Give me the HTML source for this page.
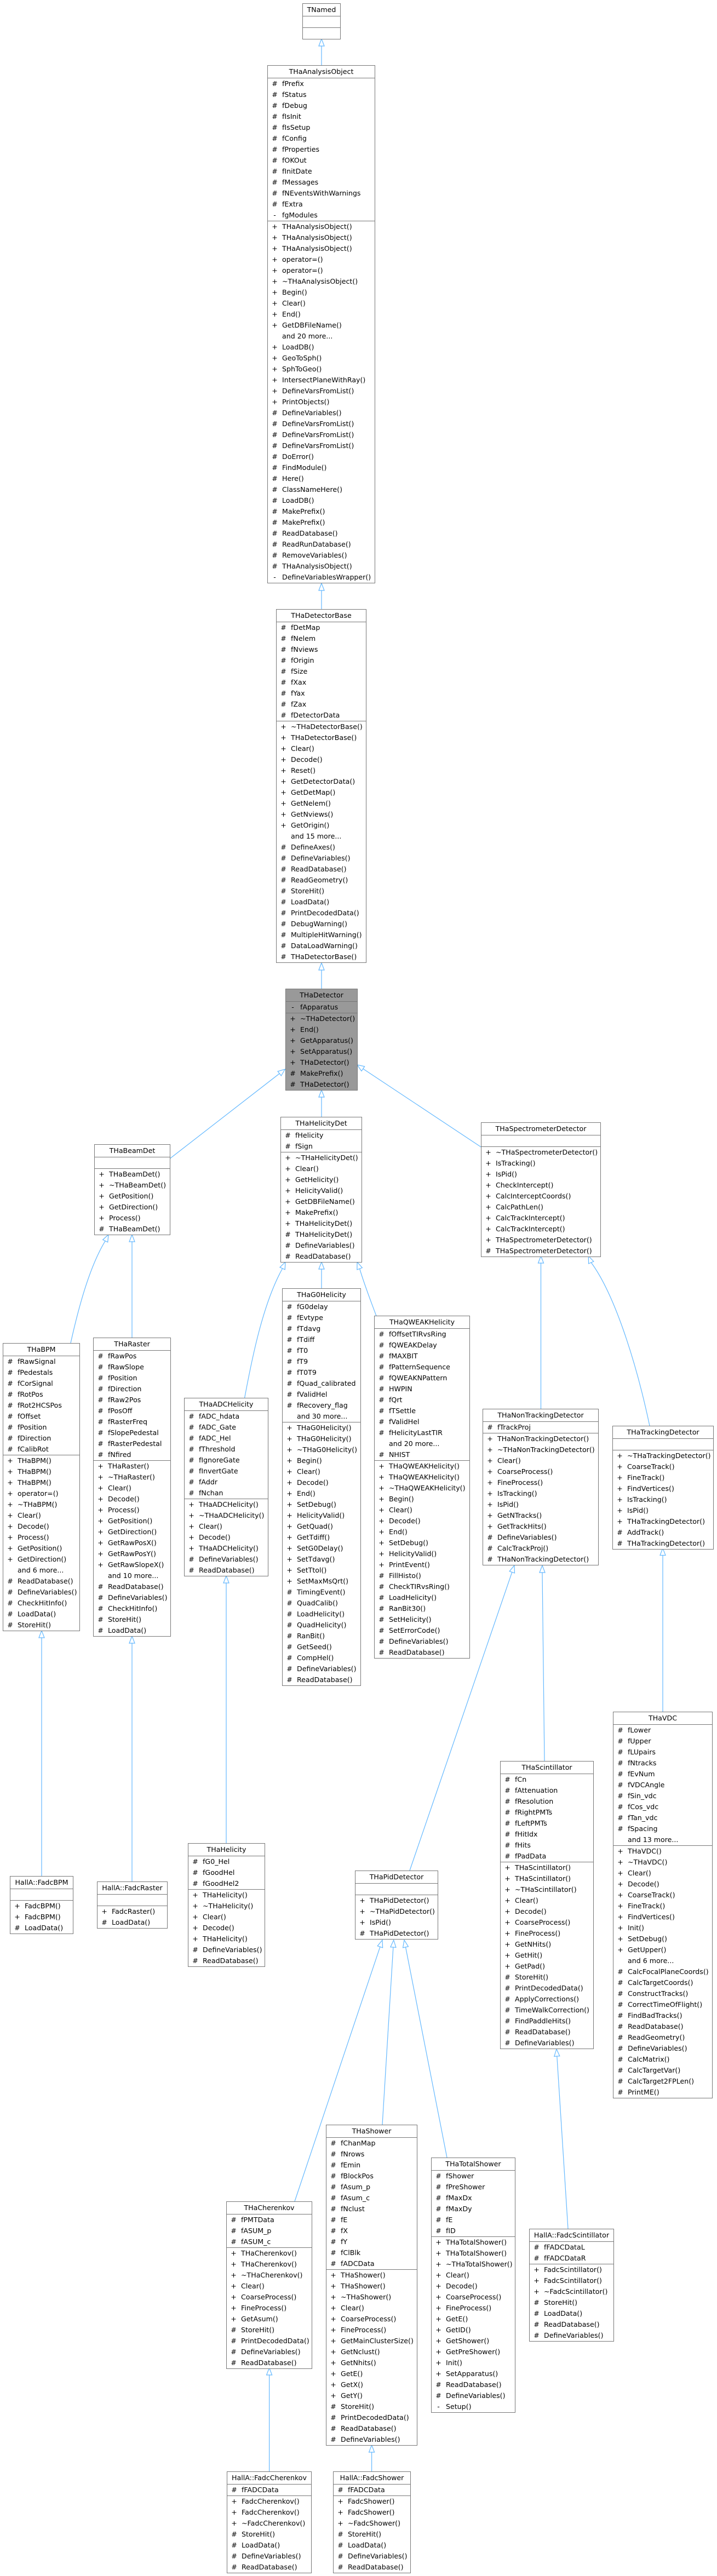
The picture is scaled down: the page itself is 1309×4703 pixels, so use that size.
<!DOCTYPE html>
<html><head><meta charset="utf-8"><style>
html,body{margin:0;padding:0;background:#fff}
body{width:1309px;height:4703px;position:relative;overflow:hidden;font-family:"DejaVu Sans","Liberation Sans",sans-serif;font-size:12.6px;color:#000}
svg{position:absolute;left:0;top:0}
.b{position:absolute;border:1px solid #777;background:#fff;box-sizing:border-box}
.g{background:#999}
.t{height:22px;line-height:22px;text-align:center;border-bottom:1px solid #777;white-space:nowrap}
.s{border-bottom:1px solid #777}
.s:last-child{border-bottom:none}
.e{height:20px}
p{margin:0;height:20px;line-height:20px;white-space:nowrap;padding-left:5px}
i{font-style:normal;display:inline-block;width:15px;text-align:center;margin-right:6px}
</style></head><body>
<svg width="1309" height="4703" fill="none" stroke="#63b8ff" stroke-width="1.2">
<g>
<line x1="587" y1="119" x2="587" y2="84"/>
<line x1="587" y1="1112" x2="587" y2="1078"/>
<line x1="587" y1="1805" x2="587" y2="1771"/>
<line x1="310.5" y1="2115" x2="510.2" y2="1960"/>
<line x1="587" y1="2039" x2="587" y2="2003"/>
<line x1="878" y1="2094" x2="662.8" y2="1951.2"/>
<path d="M129,2452 C145,2380 165,2310 192.2,2265.6"/>
<line x1="241" y1="2442" x2="241" y2="2267"/>
<path d="M446.6,2552 C460,2480 480,2380 515.6,2316"/>
<line x1="587" y1="2352" x2="587" y2="2317"/>
<path d="M687,2402.5 C675,2370 665,2345 656.6,2316.2"/>
<line x1="987.5" y1="2572" x2="987.5" y2="2306"/>
<path d="M1186,2603 C1160,2480 1120,2360 1079.2,2305"/>
<line x1="1210" y1="3125" x2="1210" y2="2839.5"/>
<line x1="76" y1="3425" x2="76" y2="2990"/>
<line x1="241" y1="3435" x2="241" y2="3000"/>
<line x1="413" y1="3365" x2="413" y2="2890"/>
<line x1="748" y1="3415" x2="934.8" y2="2870.3"/>
<line x1="994" y1="3215" x2="990" y2="2871"/>
<line x1="538" y1="4019" x2="693.9" y2="3554.3"/>
<line x1="698" y1="3879" x2="717.9" y2="3555"/>
<line x1="816" y1="3939" x2="740.5" y2="3554.8"/>
<line x1="1037" y1="4069" x2="1016.8" y2="3754"/>
<line x1="491.6" y1="4512" x2="491.6" y2="4336"/>
<line x1="678.6" y1="4512" x2="678.6" y2="4477"/>
</g>
<g fill="#fff">
<polygon points="587,71 582,84 592,84"/>
<polygon points="587,1065 582,1078 592,1078"/>
<polygon points="587,1758 582,1771 592,1771"/>
<polygon points="520.5,1952 513.3,1964 507.1,1956"/>
<polygon points="587,1990 582,2003 592,2003"/>
<polygon points="652,1944 665.6,1947 660,1955.4"/>
<polygon points="198,2254 196.7,2267.8 187.7,2263.4"/>
<polygon points="241,2254 236,2267 246,2267"/>
<polygon points="521,2304 520.2,2317.9 511,2313.7"/>
<polygon points="587,2304 582,2317 592,2317"/>
<polygon points="652,2304 661.3,2314.5 651.9,2318"/>
<polygon points="987.5,2293 982.5,2306 992.5,2306"/>
<polygon points="1074.3,2293 1083.8,2303 1074.6,2307"/>
<polygon points="1210,2826.5 1205,2839.5 1215,2839.5"/>
<polygon points="76,2977 71,2990 81,2990"/>
<polygon points="241,2987 236,3000 246,3000"/>
<polygon points="413,2877 408,2890 418,2890"/>
<polygon points="939,2858 939.5,2871.9 930.1,2868.7"/>
<polygon points="990,2858 985,2871 995,2871"/>
<polygon points="698,3542 698.6,3555.9 689.2,3552.7"/>
<polygon points="718.7,3542 722.9,3555.3 712.9,3554.7"/>
<polygon points="738,3542 745.4,3553.8 735.6,3555.8"/>
<polygon points="1016,3741 1021.8,3753.7 1011.8,3754.3"/>
<polygon points="491.6,4323 486.6,4336 496.6,4336"/>
<polygon points="678.6,4464 673.6,4477 683.6,4477"/>
</g>
</svg>

<div class="b" style="left:552px;top:6px;width:70px"><div class="t">TNamed</div><div class="s e"></div><div class="s e"></div></div>

<div class="b" style="left:488px;top:119px;width:197px"><div class="t">THaAnalysisObject</div>
<div class="s"><p><i>#</i>fPrefix</p><p><i>#</i>fStatus</p><p><i>#</i>fDebug</p><p><i>#</i>fIsInit</p><p><i>#</i>fIsSetup</p><p><i>#</i>fConfig</p><p><i>#</i>fProperties</p><p><i>#</i>fOKOut</p><p><i>#</i>fInitDate</p><p><i>#</i>fMessages</p><p><i>#</i>fNEventsWithWarnings</p><p><i>#</i>fExtra</p><p><i>-</i>fgModules</p></div>
<div class="s"><p><i>+</i>THaAnalysisObject()</p><p><i>+</i>THaAnalysisObject()</p><p><i>+</i>THaAnalysisObject()</p><p><i>+</i>operator=()</p><p><i>+</i>operator=()</p><p><i>+</i>~THaAnalysisObject()</p><p><i>+</i>Begin()</p><p><i>+</i>Clear()</p><p><i>+</i>End()</p><p><i>+</i>GetDBFileName()</p><p><i></i>and 20 more...</p><p><i>+</i>LoadDB()</p><p><i>+</i>GeoToSph()</p><p><i>+</i>SphToGeo()</p><p><i>+</i>IntersectPlaneWithRay()</p><p><i>+</i>DefineVarsFromList()</p><p><i>+</i>PrintObjects()</p><p><i>#</i>DefineVariables()</p><p><i>#</i>DefineVarsFromList()</p><p><i>#</i>DefineVarsFromList()</p><p><i>#</i>DefineVarsFromList()</p><p><i>#</i>DoError()</p><p><i>#</i>FindModule()</p><p><i>#</i>Here()</p><p><i>#</i>ClassNameHere()</p><p><i>#</i>LoadDB()</p><p><i>#</i>MakePrefix()</p><p><i>#</i>MakePrefix()</p><p><i>#</i>ReadDatabase()</p><p><i>#</i>ReadRunDatabase()</p><p><i>#</i>RemoveVariables()</p><p><i>#</i>THaAnalysisObject()</p><p><i>-</i>DefineVariablesWrapper()</p></div></div>

<div class="b" style="left:504px;top:1112px;width:165px"><div class="t">THaDetectorBase</div>
<div class="s"><p><i>#</i>fDetMap</p><p><i>#</i>fNelem</p><p><i>#</i>fNviews</p><p><i>#</i>fOrigin</p><p><i>#</i>fSize</p><p><i>#</i>fXax</p><p><i>#</i>fYax</p><p><i>#</i>fZax</p><p><i>#</i>fDetectorData</p></div>
<div class="s"><p><i>+</i>~THaDetectorBase()</p><p><i>+</i>THaDetectorBase()</p><p><i>+</i>Clear()</p><p><i>+</i>Decode()</p><p><i>+</i>Reset()</p><p><i>+</i>GetDetectorData()</p><p><i>+</i>GetDetMap()</p><p><i>+</i>GetNelem()</p><p><i>+</i>GetNviews()</p><p><i>+</i>GetOrigin()</p><p><i></i>and 15 more...</p><p><i>#</i>DefineAxes()</p><p><i>#</i>DefineVariables()</p><p><i>#</i>ReadDatabase()</p><p><i>#</i>ReadGeometry()</p><p><i>#</i>StoreHit()</p><p><i>#</i>LoadData()</p><p><i>#</i>PrintDecodedData()</p><p><i>#</i>DebugWarning()</p><p><i>#</i>MultipleHitWarning()</p><p><i>#</i>DataLoadWarning()</p><p><i>#</i>THaDetectorBase()</p></div></div>

<div class="b g" style="left:521px;top:1805px;width:132px"><div class="t">THaDetector</div>
<div class="s"><p><i>-</i>fApparatus</p></div>
<div class="s"><p><i>+</i>~THaDetector()</p><p><i>+</i>End()</p><p><i>+</i>GetApparatus()</p><p><i>+</i>SetApparatus()</p><p><i>+</i>THaDetector()</p><p><i>#</i>MakePrefix()</p><p><i>#</i>THaDetector()</p></div></div>

<div class="b" style="left:172px;top:2089px;width:139px"><div class="t">THaBeamDet</div><div class="s e"></div>
<div class="s"><p><i>+</i>THaBeamDet()</p><p><i>+</i>~THaBeamDet()</p><p><i>+</i>GetPosition()</p><p><i>+</i>GetDirection()</p><p><i>+</i>Process()</p><p><i>#</i>THaBeamDet()</p></div></div>

<div class="b" style="left:512px;top:2039px;width:149px"><div class="t">THaHelicityDet</div>
<div class="s"><p><i>#</i>fHelicity</p><p><i>#</i>fSign</p></div>
<div class="s"><p><i>+</i>~THaHelicityDet()</p><p><i>+</i>Clear()</p><p><i>+</i>GetHelicity()</p><p><i>+</i>HelicityValid()</p><p><i>+</i>GetDBFileName()</p><p><i>+</i>MakePrefix()</p><p><i>+</i>THaHelicityDet()</p><p><i>#</i>THaHelicityDet()</p><p><i>#</i>DefineVariables()</p><p><i>#</i>ReadDatabase()</p></div></div>

<div class="b" style="left:878px;top:2049px;width:219px"><div class="t">THaSpectrometerDetector</div><div class="s e"></div>
<div class="s"><p><i>+</i>~THaSpectrometerDetector()</p><p><i>+</i>IsTracking()</p><p><i>+</i>IsPid()</p><p><i>+</i>CheckIntercept()</p><p><i>+</i>CalcInterceptCoords()</p><p><i>+</i>CalcPathLen()</p><p><i>+</i>CalcTrackIntercept()</p><p><i>+</i>CalcTrackIntercept()</p><p><i>+</i>THaSpectrometerDetector()</p><p><i>#</i>THaSpectrometerDetector()</p></div></div>

<div class="b" style="left:5px;top:2452px;width:141px"><div class="t">THaBPM</div>
<div class="s"><p><i>#</i>fRawSignal</p><p><i>#</i>fPedestals</p><p><i>#</i>fCorSignal</p><p><i>#</i>fRotPos</p><p><i>#</i>fRot2HCSPos</p><p><i>#</i>fOffset</p><p><i>#</i>fPosition</p><p><i>#</i>fDirection</p><p><i>#</i>fCalibRot</p></div>
<div class="s"><p><i>+</i>THaBPM()</p><p><i>+</i>THaBPM()</p><p><i>+</i>THaBPM()</p><p><i>+</i>operator=()</p><p><i>+</i>~THaBPM()</p><p><i>+</i>Clear()</p><p><i>+</i>Decode()</p><p><i>+</i>Process()</p><p><i>+</i>GetPosition()</p><p><i>+</i>GetDirection()</p><p><i></i>and 6 more...</p><p><i>#</i>ReadDatabase()</p><p><i>#</i>DefineVariables()</p><p><i>#</i>CheckHitInfo()</p><p><i>#</i>LoadData()</p><p><i>#</i>StoreHit()</p></div></div>

<div class="b" style="left:170px;top:2442px;width:142px"><div class="t">THaRaster</div>
<div class="s"><p><i>#</i>fRawPos</p><p><i>#</i>fRawSlope</p><p><i>#</i>fPosition</p><p><i>#</i>fDirection</p><p><i>#</i>fRaw2Pos</p><p><i>#</i>fPosOff</p><p><i>#</i>fRasterFreq</p><p><i>#</i>fSlopePedestal</p><p><i>#</i>fRasterPedestal</p><p><i>#</i>fNfired</p></div>
<div class="s"><p><i>+</i>THaRaster()</p><p><i>+</i>~THaRaster()</p><p><i>+</i>Clear()</p><p><i>+</i>Decode()</p><p><i>+</i>Process()</p><p><i>+</i>GetPosition()</p><p><i>+</i>GetDirection()</p><p><i>+</i>GetRawPosX()</p><p><i>+</i>GetRawPosY()</p><p><i>+</i>GetRawSlopeX()</p><p><i></i>and 10 more...</p><p><i>#</i>ReadDatabase()</p><p><i>#</i>DefineVariables()</p><p><i>#</i>CheckHitInfo()</p><p><i>#</i>StoreHit()</p><p><i>#</i>LoadData()</p></div></div>

<div class="b" style="left:336px;top:2552px;width:154px"><div class="t">THaADCHelicity</div>
<div class="s"><p><i>#</i>fADC_hdata</p><p><i>#</i>fADC_Gate</p><p><i>#</i>fADC_Hel</p><p><i>#</i>fThreshold</p><p><i>#</i>fIgnoreGate</p><p><i>#</i>fInvertGate</p><p><i>#</i>fAddr</p><p><i>#</i>fNchan</p></div>
<div class="s"><p><i>+</i>THaADCHelicity()</p><p><i>+</i>~THaADCHelicity()</p><p><i>+</i>Clear()</p><p><i>+</i>Decode()</p><p><i>+</i>THaADCHelicity()</p><p><i>#</i>DefineVariables()</p><p><i>#</i>ReadDatabase()</p></div></div>

<div class="b" style="left:515px;top:2352px;width:144px"><div class="t">THaG0Helicity</div>
<div class="s"><p><i>#</i>fG0delay</p><p><i>#</i>fEvtype</p><p><i>#</i>fTdavg</p><p><i>#</i>fTdiff</p><p><i>#</i>fT0</p><p><i>#</i>fT9</p><p><i>#</i>fT0T9</p><p><i>#</i>fQuad_calibrated</p><p><i>#</i>fValidHel</p><p><i>#</i>fRecovery_flag</p><p><i></i>and 30 more...</p></div>
<div class="s"><p><i>+</i>THaG0Helicity()</p><p><i>+</i>THaG0Helicity()</p><p><i>+</i>~THaG0Helicity()</p><p><i>+</i>Begin()</p><p><i>+</i>Clear()</p><p><i>+</i>Decode()</p><p><i>+</i>End()</p><p><i>+</i>SetDebug()</p><p><i>+</i>HelicityValid()</p><p><i>+</i>GetQuad()</p><p><i>+</i>GetTdiff()</p><p><i>+</i>SetG0Delay()</p><p><i>+</i>SetTdavg()</p><p><i>+</i>SetTtol()</p><p><i>+</i>SetMaxMsQrt()</p><p><i>#</i>TimingEvent()</p><p><i>#</i>QuadCalib()</p><p><i>#</i>LoadHelicity()</p><p><i>#</i>QuadHelicity()</p><p><i>#</i>RanBit()</p><p><i>#</i>GetSeed()</p><p><i>#</i>CompHel()</p><p><i>#</i>DefineVariables()</p><p><i>#</i>ReadDatabase()</p></div></div>

<div class="b" style="left:683px;top:2402px;width:175px"><div class="t">THaQWEAKHelicity</div>
<div class="s"><p><i>#</i>fOffsetTIRvsRing</p><p><i>#</i>fQWEAKDelay</p><p><i>#</i>fMAXBIT</p><p><i>#</i>fPatternSequence</p><p><i>#</i>fQWEAKNPattern</p><p><i>#</i>HWPIN</p><p><i>#</i>fQrt</p><p><i>#</i>fTSettle</p><p><i>#</i>fValidHel</p><p><i>#</i>fHelicityLastTIR</p><p><i></i>and 20 more...</p><p><i>#</i>NHIST</p></div>
<div class="s"><p><i>+</i>THaQWEAKHelicity()</p><p><i>+</i>THaQWEAKHelicity()</p><p><i>+</i>~THaQWEAKHelicity()</p><p><i>+</i>Begin()</p><p><i>+</i>Clear()</p><p><i>+</i>Decode()</p><p><i>+</i>End()</p><p><i>+</i>SetDebug()</p><p><i>+</i>HelicityValid()</p><p><i>+</i>PrintEvent()</p><p><i>#</i>FillHisto()</p><p><i>#</i>CheckTIRvsRing()</p><p><i>#</i>LoadHelicity()</p><p><i>#</i>RanBit30()</p><p><i>#</i>SetHelicity()</p><p><i>#</i>SetErrorCode()</p><p><i>#</i>DefineVariables()</p><p><i>#</i>ReadDatabase()</p></div></div>

<div class="b" style="left:881px;top:2572px;width:212px"><div class="t">THaNonTrackingDetector</div>
<div class="s"><p><i>#</i>fTrackProj</p></div>
<div class="s"><p><i>+</i>THaNonTrackingDetector()</p><p><i>+</i>~THaNonTrackingDetector()</p><p><i>+</i>Clear()</p><p><i>+</i>CoarseProcess()</p><p><i>+</i>FineProcess()</p><p><i>+</i>IsTracking()</p><p><i>+</i>IsPid()</p><p><i>+</i>GetNTracks()</p><p><i>+</i>GetTrackHits()</p><p><i>#</i>DefineVariables()</p><p><i>#</i>CalcTrackProj()</p><p><i>#</i>THaNonTrackingDetector()</p></div></div>

<div class="b" style="left:1118px;top:2603px;width:185px"><div class="t">THaTrackingDetector</div><div class="s e"></div>
<div class="s"><p><i>+</i>~THaTrackingDetector()</p><p><i>+</i>CoarseTrack()</p><p><i>+</i>FineTrack()</p><p><i>+</i>FindVertices()</p><p><i>+</i>IsTracking()</p><p><i>+</i>IsPid()</p><p><i>+</i>THaTrackingDetector()</p><p><i>#</i>AddTrack()</p><p><i>#</i>THaTrackingDetector()</p></div></div>

<div class="b" style="left:1119px;top:3125px;width:182px"><div class="t">THaVDC</div>
<div class="s"><p><i>#</i>fLower</p><p><i>#</i>fUpper</p><p><i>#</i>fLUpairs</p><p><i>#</i>fNtracks</p><p><i>#</i>fEvNum</p><p><i>#</i>fVDCAngle</p><p><i>#</i>fSin_vdc</p><p><i>#</i>fCos_vdc</p><p><i>#</i>fTan_vdc</p><p><i>#</i>fSpacing</p><p><i></i>and 13 more...</p></div>
<div class="s"><p><i>+</i>THaVDC()</p><p><i>+</i>~THaVDC()</p><p><i>+</i>Clear()</p><p><i>+</i>Decode()</p><p><i>+</i>CoarseTrack()</p><p><i>+</i>FineTrack()</p><p><i>+</i>FindVertices()</p><p><i>+</i>Init()</p><p><i>+</i>SetDebug()</p><p><i>+</i>GetUpper()</p><p><i></i>and 6 more...</p><p><i>#</i>CalcFocalPlaneCoords()</p><p><i>#</i>CalcTargetCoords()</p><p><i>#</i>ConstructTracks()</p><p><i>#</i>CorrectTimeOfFlight()</p><p><i>#</i>FindBadTracks()</p><p><i>#</i>ReadDatabase()</p><p><i>#</i>ReadGeometry()</p><p><i>#</i>DefineVariables()</p><p><i>#</i>CalcMatrix()</p><p><i>#</i>CalcTargetVar()</p><p><i>#</i>CalcTarget2FPLen()</p><p><i>#</i>PrintME()</p></div></div>

<div class="b" style="left:18px;top:3425px;width:116px"><div class="t">HallA::FadcBPM</div><div class="s e"></div>
<div class="s"><p><i>+</i>FadcBPM()</p><p><i>+</i>FadcBPM()</p><p><i>#</i>LoadData()</p></div></div>

<div class="b" style="left:177px;top:3435px;width:129px"><div class="t">HallA::FadcRaster</div><div class="s e"></div>
<div class="s"><p><i>+</i>FadcRaster()</p><p><i>#</i>LoadData()</p></div></div>

<div class="b" style="left:343px;top:3365px;width:141px"><div class="t">THaHelicity</div>
<div class="s"><p><i>#</i>fG0_Hel</p><p><i>#</i>fGoodHel</p><p><i>#</i>fGoodHel2</p></div>
<div class="s"><p><i>+</i>THaHelicity()</p><p><i>+</i>~THaHelicity()</p><p><i>+</i>Clear()</p><p><i>+</i>Decode()</p><p><i>+</i>THaHelicity()</p><p><i>#</i>DefineVariables()</p><p><i>#</i>ReadDatabase()</p></div></div>

<div class="b" style="left:648px;top:3415px;width:152px"><div class="t">THaPidDetector</div><div class="s e"></div>
<div class="s"><p><i>+</i>THaPidDetector()</p><p><i>+</i>~THaPidDetector()</p><p><i>+</i>IsPid()</p><p><i>#</i>THaPidDetector()</p></div></div>

<div class="b" style="left:913px;top:3215px;width:171px"><div class="t">THaScintillator</div>
<div class="s"><p><i>#</i>fCn</p><p><i>#</i>fAttenuation</p><p><i>#</i>fResolution</p><p><i>#</i>fRightPMTs</p><p><i>#</i>fLeftPMTs</p><p><i>#</i>fHitIdx</p><p><i>#</i>fHits</p><p><i>#</i>fPadData</p></div>
<div class="s"><p><i>+</i>THaScintillator()</p><p><i>+</i>THaScintillator()</p><p><i>+</i>~THaScintillator()</p><p><i>+</i>Clear()</p><p><i>+</i>Decode()</p><p><i>+</i>CoarseProcess()</p><p><i>+</i>FineProcess()</p><p><i>+</i>GetNHits()</p><p><i>+</i>GetHit()</p><p><i>+</i>GetPad()</p><p><i>#</i>StoreHit()</p><p><i>#</i>PrintDecodedData()</p><p><i>#</i>ApplyCorrections()</p><p><i>#</i>TimeWalkCorrection()</p><p><i>#</i>FindPaddleHits()</p><p><i>#</i>ReadDatabase()</p><p><i>#</i>DefineVariables()</p></div></div>

<div class="b" style="left:413px;top:4019px;width:157px"><div class="t">THaCherenkov</div>
<div class="s"><p><i>#</i>fPMTData</p><p><i>#</i>fASUM_p</p><p><i>#</i>fASUM_c</p></div>
<div class="s"><p><i>+</i>THaCherenkov()</p><p><i>+</i>THaCherenkov()</p><p><i>+</i>~THaCherenkov()</p><p><i>+</i>Clear()</p><p><i>+</i>CoarseProcess()</p><p><i>+</i>FineProcess()</p><p><i>+</i>GetAsum()</p><p><i>#</i>StoreHit()</p><p><i>#</i>PrintDecodedData()</p><p><i>#</i>DefineVariables()</p><p><i>#</i>ReadDatabase()</p></div></div>

<div class="b" style="left:595px;top:3879px;width:167px"><div class="t">THaShower</div>
<div class="s"><p><i>#</i>fChanMap</p><p><i>#</i>fNrows</p><p><i>#</i>fEmin</p><p><i>#</i>fBlockPos</p><p><i>#</i>fAsum_p</p><p><i>#</i>fAsum_c</p><p><i>#</i>fNclust</p><p><i>#</i>fE</p><p><i>#</i>fX</p><p><i>#</i>fY</p><p><i>#</i>fClBlk</p><p><i>#</i>fADCData</p></div>
<div class="s"><p><i>+</i>THaShower()</p><p><i>+</i>THaShower()</p><p><i>+</i>~THaShower()</p><p><i>+</i>Clear()</p><p><i>+</i>CoarseProcess()</p><p><i>+</i>FineProcess()</p><p><i>+</i>GetMainClusterSize()</p><p><i>+</i>GetNclust()</p><p><i>+</i>GetNhits()</p><p><i>+</i>GetE()</p><p><i>+</i>GetX()</p><p><i>+</i>GetY()</p><p><i>#</i>StoreHit()</p><p><i>#</i>PrintDecodedData()</p><p><i>#</i>ReadDatabase()</p><p><i>#</i>DefineVariables()</p></div></div>

<div class="b" style="left:787px;top:3939px;width:154px"><div class="t">THaTotalShower</div>
<div class="s"><p><i>#</i>fShower</p><p><i>#</i>fPreShower</p><p><i>#</i>fMaxDx</p><p><i>#</i>fMaxDy</p><p><i>#</i>fE</p><p><i>#</i>fID</p></div>
<div class="s"><p><i>+</i>THaTotalShower()</p><p><i>+</i>THaTotalShower()</p><p><i>+</i>~THaTotalShower()</p><p><i>+</i>Clear()</p><p><i>+</i>Decode()</p><p><i>+</i>CoarseProcess()</p><p><i>+</i>FineProcess()</p><p><i>+</i>GetE()</p><p><i>+</i>GetID()</p><p><i>+</i>GetShower()</p><p><i>+</i>GetPreShower()</p><p><i>+</i>Init()</p><p><i>+</i>SetApparatus()</p><p><i>#</i>ReadDatabase()</p><p><i>#</i>DefineVariables()</p><p><i>-</i>Setup()</p></div></div>

<div class="b" style="left:966px;top:4069px;width:155px"><div class="t">HallA::FadcScintillator</div>
<div class="s"><p><i>#</i>fFADCDataL</p><p><i>#</i>fFADCDataR</p></div>
<div class="s"><p><i>+</i>FadcScintillator()</p><p><i>+</i>FadcScintillator()</p><p><i>+</i>~FadcScintillator()</p><p><i>#</i>StoreHit()</p><p><i>#</i>LoadData()</p><p><i>#</i>ReadDatabase()</p><p><i>#</i>DefineVariables()</p></div></div>

<div class="b" style="left:414px;top:4512px;width:155px"><div class="t">HallA::FadcCherenkov</div>
<div class="s"><p><i>#</i>fFADCData</p></div>
<div class="s"><p><i>+</i>FadcCherenkov()</p><p><i>+</i>FadcCherenkov()</p><p><i>+</i>~FadcCherenkov()</p><p><i>#</i>StoreHit()</p><p><i>#</i>LoadData()</p><p><i>#</i>DefineVariables()</p><p><i>#</i>ReadDatabase()</p></div></div>

<div class="b" style="left:608px;top:4512px;width:142px"><div class="t">HallA::FadcShower</div>
<div class="s"><p><i>#</i>fFADCData</p></div>
<div class="s"><p><i>+</i>FadcShower()</p><p><i>+</i>FadcShower()</p><p><i>+</i>~FadcShower()</p><p><i>#</i>StoreHit()</p><p><i>#</i>LoadData()</p><p><i>#</i>DefineVariables()</p><p><i>#</i>ReadDatabase()</p></div></div>

</body></html>
